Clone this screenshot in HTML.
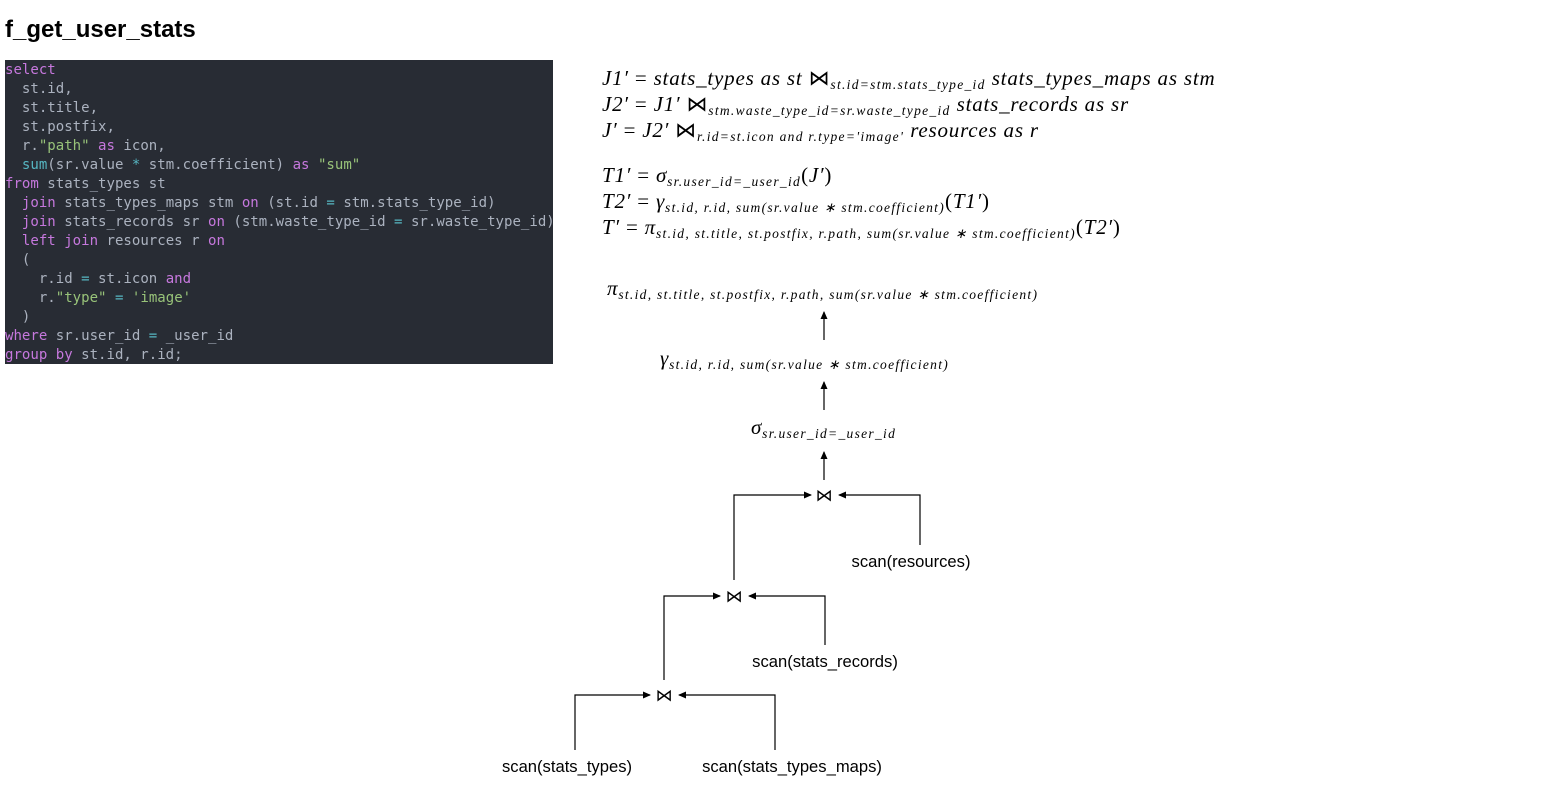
<!DOCTYPE html>
<html><head><meta charset="utf-8"><style>
body{margin:0;width:1561px;height:786px;background:#fff;position:relative;overflow:hidden;font-family:"Liberation Sans",sans-serif}
h1{position:absolute;left:5px;top:16px;margin:0;font-size:24px;font-weight:bold;color:#000}
pre{position:absolute;left:5px;top:60px;width:548px;height:304px;margin:0;background:#282c34;color:#abb2bf;font-family:"DejaVu Sans Mono","Liberation Mono",monospace;font-size:14.05px;line-height:19px;padding-top:1px;box-sizing:border-box;overflow:hidden}
.k{color:#c678dd}.s{color:#98c379}.f{color:#56b6c2}
.m{position:absolute;white-space:nowrap;font-family:"Liberation Serif",serif;font-style:italic;font-size:21px;letter-spacing:0.8px;color:#000;line-height:1}
.m sub{font-size:13.5px;letter-spacing:1.3px;vertical-align:-4px}
.n{font-style:normal}
.lbl{position:absolute;font-size:16.6px;color:#000;white-space:nowrap;transform:translateX(-50%)}
</style></head><body>
<h1>f_get_user_stats</h1>
<pre><span class="k">select</span>
  st.id,
  st.title,
  st.postfix,
  r.<span class="s">"path"</span> <span class="k">as</span> icon,
  <span class="f">sum</span>(sr.value <span class="f">*</span> stm.coefficient) <span class="k">as</span> <span class="s">"sum"</span>
<span class="k">from</span> stats_types st
  <span class="k">join</span> stats_types_maps stm <span class="k">on</span> (st.id <span class="f">=</span> stm.stats_type_id)
  <span class="k">join</span> stats_records sr <span class="k">on</span> (stm.waste_type_id <span class="f">=</span> sr.waste_type_id)
  <span class="k">left join</span> resources r <span class="k">on</span>
  (
    r.id <span class="f">=</span> st.icon <span class="k">and</span>
    r.<span class="s">"type"</span> <span class="f">=</span> <span class="s">'image'</span>
  )
<span class="k">where</span> sr.user_id <span class="f">=</span> _user_id
<span class="k">group by</span> st.id, r.id;</pre>

<div class="m" style="left:602px;top:68px">J1′ <span class="n">=</span> stats_types as st <span class="n">⋈</span><sub>st.id=stm.stats_type_id</sub> stats_types_maps as stm</div>
<div class="m" style="left:602px;top:94px">J2′ <span class="n">=</span> J1′ <span class="n">⋈</span><sub>stm.waste_type_id=sr.waste_type_id</sub> stats_records as sr</div>
<div class="m" style="left:602px;top:120px">J′ <span class="n">=</span> J2′ <span class="n">⋈</span><sub>r.id=st.icon and r.type='image'</sub> resources as r</div>
<div class="m" style="left:602px;top:165px">T1′ <span class="n">=</span> σ<sub>sr.user_id=_user_id</sub><span class="n">(</span>J′<span class="n">)</span></div>
<div class="m" style="left:602px;top:191px">T2′ <span class="n">=</span> γ<sub>st.id, r.id, sum(sr.value ∗ stm.coefficient)</sub><span class="n">(</span>T1′<span class="n">)</span></div>
<div class="m" style="left:602px;top:217px">T′ <span class="n">=</span> π<sub>st.id, st.title, st.postfix, r.path, sum(sr.value ∗ stm.coefficient)</sub><span class="n">(</span>T2′<span class="n">)</span></div>

<div class="m" style="left:607px;top:278px">π<sub>st.id, st.title, st.postfix, r.path, sum(sr.value ∗ stm.coefficient)</sub></div>
<div class="m" style="left:660px;top:348px">γ<sub>st.id, r.id, sum(sr.value ∗ stm.coefficient)</sub></div>
<div class="m" style="left:751px;top:417px">σ<sub>sr.user_id=_user_id</sub></div>

<svg width="1561" height="786" style="position:absolute;left:0;top:0" xmlns="http://www.w3.org/2000/svg">
<defs><marker id="a" markerWidth="8" markerHeight="8" refX="7" refY="4" orient="auto" markerUnits="userSpaceOnUse"><path d="M0,0.5 L8,4 L0,7.5 Z" fill="#000"/></marker></defs>
<g stroke="#000" stroke-width="1.2" fill="none">
<line x1="824" y1="340" x2="824" y2="312" marker-end="url(#a)"/>
<line x1="824" y1="410" x2="824" y2="382" marker-end="url(#a)"/>
<line x1="824" y1="480" x2="824" y2="452" marker-end="url(#a)"/>
<polyline points="734,580 734,495 811,495" marker-end="url(#a)"/>
<polyline points="920,545 920,495 839,495" marker-end="url(#a)"/>
<polyline points="664,680 664,596 720,596" marker-end="url(#a)"/>
<polyline points="825,645 825,596 749,596" marker-end="url(#a)"/>
<polyline points="575,750 575,695 650,695" marker-end="url(#a)"/>
<polyline points="775,750 775,695 679,695" marker-end="url(#a)"/>
</g>
<g font-family="DejaVu Sans,sans-serif" font-size="17" text-anchor="middle" fill="#000">
<text x="824" y="501">⋈</text>
<text x="734" y="602">⋈</text>
<text x="664" y="701">⋈</text>
</g>
</svg>
<div class="lbl" style="left:911px;top:552px">scan(resources)</div>
<div class="lbl" style="left:825px;top:652px">scan(stats_records)</div>
<div class="lbl" style="left:567px;top:757px">scan(stats_types)</div>
<div class="lbl" style="left:792px;top:757px">scan(stats_types_maps)</div>
</body></html>
